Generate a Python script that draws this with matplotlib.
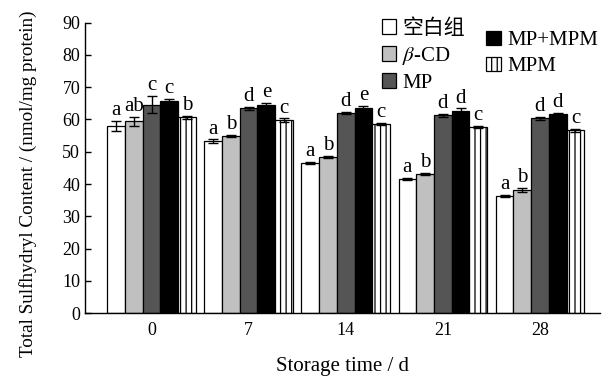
import numpy as np
import matplotlib
matplotlib.use('Agg')
import matplotlib.pyplot as plt
from matplotlib.patches import Patch

plt.rcParams['font.family'] = ['Liberation Serif', 'Noto Sans CJK SC']
plt.rcParams['mathtext.fontset'] = 'stix'
plt.rcParams['hatch.linewidth'] = 0.9

days = ['0', '7', '14', '21', '28']
labels = ['空白组', r'$\beta$-CD', 'MP', 'MP+MPM', 'MPM']

blank = [57.9, 53.3, 46.6, 41.7, 36.4]
blank_err = [1.6, 0.5, 0.3, 0.3, 0.3]
bcd = [59.4, 54.8, 48.4, 43.1, 38.3]
bcd_err = [1.3, 0.3, 0.3, 0.4, 0.6]
mp = [64.6, 63.4, 62.1, 61.3, 60.3]
mp_err = [2.6, 0.5, 0.3, 0.4, 0.4]
mpmpm = [65.6, 64.4, 63.6, 62.5, 61.6]
mpmpm_err = [0.7, 0.7, 0.6, 0.9, 0.5]
mpm = [60.7, 59.7, 58.6, 57.6, 56.6]
mpm_err = [0.5, 0.6, 0.3, 0.3, 0.6]

letters = [
    ['a', 'ab', 'c', 'c', 'b'],
    ['a', 'b', 'd', 'e', 'c'],
    ['a', 'b', 'd', 'e', 'c'],
    ['a', 'b', 'd', 'd', 'c'],
    ['a', 'b', 'd', 'd', 'c'],
]

series = [blank, bcd, mp, mpmpm, mpm]
errors = [blank_err, bcd_err, mp_err, mpmpm_err, mpm_err]
colors = ['white', '#c0c0c0', '#555555', 'black', 'white']
hatches = [None, None, None, None, '|||']

fig = plt.figure(figsize=(6.05, 3.76), dpi=100)
ax = fig.add_axes([0.1405, 0.1668, 0.8515, 0.7732])

x = np.arange(len(days))
w = 0.1825
handles = []
for i, (vals, errs) in enumerate(zip(series, errors)):
    pos = x + (i - 2) * w
    ax.bar(pos, vals, w, color=colors[i], edgecolor='black', linewidth=0.9,
           hatch=hatches[i], zorder=2)
    ax.errorbar(pos, vals, yerr=errs, fmt='none', ecolor='black', elinewidth=1,
                capsize=3.5, capthick=1, zorder=3)
    for j in range(len(days)):
        ax.text(pos[j], vals[j] + errs[j] + 0.3, letters[j][i], ha='center',
                va='bottom', fontsize=15)
    handles.append(Patch(facecolor=colors[i], edgecolor='black', linewidth=0.9,
                         hatch=hatches[i], label=labels[i]))

ax.set_xlim(-0.685, 4.62)
ax.set_ylim(0, 90)
ax.set_yticks(range(0, 91, 10))
ax.set_xticks(x)
ax.set_xticklabels(days)
ax.tick_params(axis='both', direction='in', length=4, width=1, labelsize=13)
ax.tick_params(axis='x', pad=6)
ax.spines['top'].set_visible(False)
ax.spines['right'].set_visible(False)
for s in ['left', 'bottom']:
    ax.spines[s].set_linewidth(1)

ax.set_ylabel('Total Sulfhydryl Content / (nmol/mg protein)', fontsize=13.8)
ax.yaxis.set_label_coords(-0.093, 0.445)
ax.set_xlabel('Storage time / d', fontsize=15, labelpad=13.5)

leg1 = fig.legend(handles=handles[:3], loc='upper left', bbox_to_anchor=(0.617, 0.972),
                  frameon=False, fontsize=15, handlelength=0.7, handleheight=0.7,
                  handletextpad=0.3, labelspacing=0.3, borderaxespad=0)
leg2 = fig.legend(handles=handles[3:], loc='upper left', bbox_to_anchor=(0.79, 0.94),
                  frameon=False, fontsize=15, handlelength=0.7, handleheight=0.7,
                  handletextpad=0.3, labelspacing=0.3, borderaxespad=0)

fig.savefig('out.png', dpi=100)
